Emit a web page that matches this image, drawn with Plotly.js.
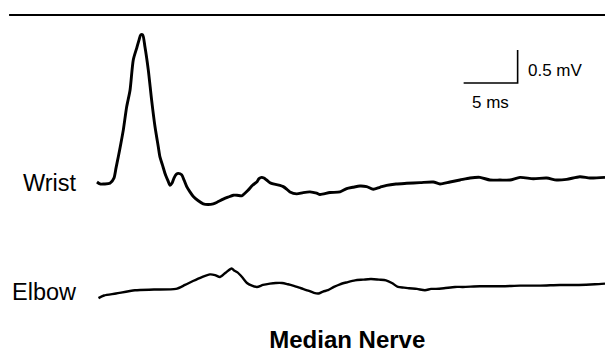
<!DOCTYPE html>
<html>
<head>
<meta charset="utf-8">
<script src="https://cdn.plot.ly/plotly-3.0.1.min.js"></script>
<style>html,body{margin:0;padding:0;background:#fff;}#chart{width:605px;height:358px;}</style>
</head>
<body>
<div id="chart"></div>
<script>
// Time in ms, amplitude in mV (relative to each trace's baseline)
const wristTime = [0.00,0.28,0.65,1.20,1.57,1.76,1.97,2.22,2.44,2.75,3.06,3.36,3.68,3.89,4.05,4.23,4.44,4.75,5.06,5.37,5.68,5.83,6.06,6.30,6.57,6.76,6.94,7.13,7.36,7.53,7.84,8.06,8.31,8.61,8.92,9.35,9.84,10.28,10.77,11.08,11.69,12.13,12.62,12.96,13.40,13.70,14.01,14.40,14.79,15.00,15.25,15.46,15.71,16.02,16.32,16.94,17.25,17.59,17.87,18.49,19.10,19.72,20.34,20.65,21.57,22.50,23.12,23.70,24.35,24.97,25.58,26.20,26.82,27.69,28.68,29.91,31.14,31.76,32.69,33.61,34.54,35.46,36.39,37.31,38.24,39.17,40.40,41.64,42.56,43.49,44.72,45.65,47.04];
const wristMv = [0.00,-0.03,-0.03,-0.02,0.06,0.21,0.38,0.59,0.79,1.14,1.39,1.85,2.03,2.15,2.23,2.23,2.05,1.70,1.24,0.84,0.53,0.38,0.26,0.13,0.02,-0.05,-0.02,0.06,0.12,0.13,0.11,0.03,-0.07,-0.15,-0.22,-0.28,-0.33,-0.34,-0.33,-0.31,-0.26,-0.23,-0.20,-0.20,-0.21,-0.17,-0.12,-0.05,0.00,0.05,0.07,0.06,0.03,-0.01,-0.03,-0.05,-0.07,-0.11,-0.15,-0.18,-0.16,-0.15,-0.17,-0.19,-0.16,-0.15,-0.10,-0.08,-0.06,-0.07,-0.11,-0.08,-0.05,-0.03,-0.02,-0.01,0.00,-0.03,0.00,0.03,0.06,0.07,0.03,0.03,0.03,0.07,0.05,0.06,0.03,0.04,0.08,0.06,0.07];

const elbowTime = [0.14,0.65,1.76,3.52,5.28,7.31,8.15,8.89,9.72,10.46,10.93,11.39,11.94,12.47,12.69,13.01,13.43,13.89,14.35,14.81,15.37,16.02,16.57,17.13,17.69,18.15,18.89,19.63,20.09,20.51,20.93,21.39,21.94,22.50,23.15,23.89,24.63,25.37,26.11,26.76,27.31,27.87,28.43,28.89,29.63,30.37,30.93,31.39,32.13,33.15,33.89,35.46,37.50,39.17,41.02,42.87,44.63,46.11,47.04];
const elbowMv = [0.00,0.04,0.07,0.12,0.13,0.14,0.20,0.26,0.32,0.36,0.35,0.32,0.39,0.45,0.42,0.39,0.32,0.23,0.19,0.17,0.20,0.22,0.23,0.23,0.21,0.19,0.15,0.11,0.08,0.07,0.10,0.12,0.17,0.21,0.24,0.27,0.28,0.29,0.28,0.27,0.23,0.17,0.16,0.15,0.14,0.12,0.14,0.14,0.15,0.17,0.17,0.18,0.18,0.19,0.19,0.20,0.20,0.21,0.22];

const traceLabels = ["Wrist", "Elbow"];
const scaleBarMs = 5;     // horizontal calibration
const scaleBarMv = 0.5;   // vertical calibration
const scaleBarLabels = ["5 ms", "0.5 mV"];
const titleText = "Median Nerve";

// display layout
const elbowOffset = -1.76;          // vertical stacking offset (mV)
const barX0 = 33.95, barY0 = 1.5;   // calibration bar corner
const xRange = [-8.98, 47.04];
const yRange = [-2.667, 2.758];

const ink = "#000000";
const elbowShifted = elbowMv.map(v => v + elbowOffset);

const traces = [
  {x: wristTime, y: wristMv, mode: "lines", line: {color: ink, width: 2.9, shape: "spline", smoothing: 0.7}, hoverinfo: "skip"},
  {x: elbowTime, y: elbowShifted, mode: "lines", line: {color: ink, width: 2.4, shape: "spline", smoothing: 0.7}, hoverinfo: "skip"},
  {x: [barX0, barX0 + scaleBarMs, barX0 + scaleBarMs], y: [barY0, barY0, barY0 + scaleBarMv], mode: "lines", line: {color: ink, width: 1.6}, hoverinfo: "skip"}
];

const labelFont = {family: "Liberation Sans, Arial, sans-serif", size: 23.5, color: ink};
const smallFont = {family: "Liberation Sans, Arial, sans-serif", size: 17, color: ink};

const layout = {
  width: 605, height: 358,
  margin: {l: 0, r: 0, t: 0, b: 0, pad: 0},
  paper_bgcolor: "#ffffff", plot_bgcolor: "#ffffff",
  showlegend: false,
  xaxis: {range: xRange, visible: false, fixedrange: true},
  yaxis: {range: yRange, visible: false, fixedrange: true},
  title: {text: "<b>" + titleText + "</b>", x: 0.574, y: 0.052, xanchor: "center", yanchor: "middle",
          font: {family: "Liberation Sans, Arial, sans-serif", size: 24, color: ink}},
  shapes: [
    {type: "line", xref: "paper", yref: "paper", x0: 0.015, x1: 1, y0: 0.958, y1: 0.958, line: {color: ink, width: 2}}
  ],
  annotations: [
    {x: wristTime[0] - 1.7, y: wristMv[0] - 0.02, xref: "x", yref: "y", text: traceLabels[0], showarrow: false, xanchor: "right", yanchor: "middle", font: labelFont},
    {x: elbowTime[0] - 1.8, y: elbowShifted[0] + 0.1, xref: "x", yref: "y", text: traceLabels[1], showarrow: false, xanchor: "right", yanchor: "middle", font: labelFont},
    {x: barX0 + scaleBarMs / 2, y: barY0 - 0.29, xref: "x", yref: "y", text: scaleBarLabels[0], showarrow: false, xanchor: "center", yanchor: "middle", font: smallFont},
    {x: barX0 + scaleBarMs + 0.75, y: barY0 + scaleBarMv * 0.37, xref: "x", yref: "y", text: scaleBarLabels[1], showarrow: false, xanchor: "left", yanchor: "middle", font: smallFont}
  ]
};

Plotly.newPlot("chart", traces, layout, {staticPlot: true, displayModeBar: false});
</script>
</body>
</html>
